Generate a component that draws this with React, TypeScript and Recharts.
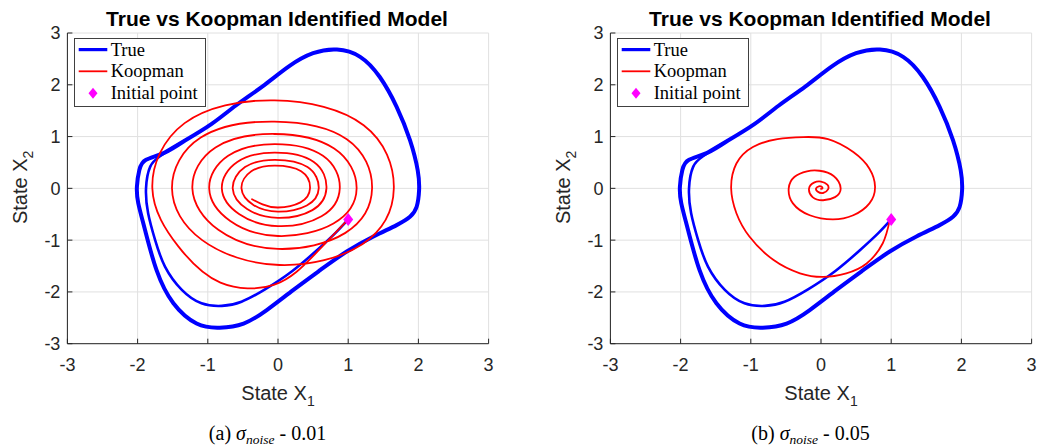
import React from 'react';
import { ScatterChart, Scatter, XAxis, YAxis, CartesianGrid, Legend } from 'recharts';

const axisTicks = [-3, -2, -1, 0, 1, 2, 3];

type P = [number, number];

const trueTransientRaw: P[] = [
  [1.0, -0.6], [0.82, -0.86], [0.55, -1.2], [0.2, -1.6], [-0.185, -1.95], [-0.52, -2.19],
  [-0.8, -2.27], [-1.09, -2.22], [-1.37, -1.96], [-1.61, -1.51], [-1.75, -1.0],
  [-1.85, -0.48], [-1.88, 0.0], [-1.82, 0.42], [-1.68, 0.62], [-1.48, 0.8], [-1.33, 0.92],
];

const trueCycleRaw: P[] = [
  [-1.63, 0.68], [-1.33, 0.92], [-0.95, 1.24], [-0.6, 1.6], [-0.22, 1.97], [0.16, 2.36],
  [0.5, 2.61], [0.84, 2.68], [1.17, 2.54], [1.45, 2.15], [1.69, 1.575], [1.88, 0.93],
  [1.99, 0.35], [2.01, -0.03], [1.975, -0.355], [1.88, -0.55], [1.69, -0.71], [1.36, -0.93],
  [0.98, -1.22], [0.6, -1.58], [0.22, -1.96], [-0.16, -2.35], [-0.49, -2.61], [-0.83, -2.69],
  [-1.16, -2.61], [-1.49, -2.22], [-1.73, -1.58], [-1.895, -0.8], [-1.99, -0.29],
  [-2.01, 0.03], [-1.975, 0.355], [-1.88, 0.55], [-1.63, 0.68], [-1.33, 0.92],
];

const koopmanARaw: P[] = [
  [1.0, -0.6], [0.52, -1.28], [-0.05, -1.86], [-0.82, -1.82], [-1.42, -1.12],
  // ring 1
  [-1.79, 0.0], [-1.33, 1.26], [-0.05, 1.7], [1.22, 1.22], [1.65, 0.0], [1.2, -1.08],
  [0.02, -1.48], [-1.08, -1.0],
  // ring 2
  [-1.51, 0.0], [-1.1, 0.98], [-0.05, 1.29], [0.98, 0.95], [1.34, 0.0], [0.96, -0.86],
  [0.0, -1.17], [-0.85, -0.8],
  // ring 3
  [-1.22, 0.0], [-0.89, 0.79], [-0.05, 1.05], [0.8, 0.77], [1.12, 0.0], [0.79, -0.68],
  [0.0, -0.92], [-0.68, -0.63],
  // ring 4
  [-0.98, 0.0], [-0.71, 0.63], [-0.05, 0.855], [0.64, 0.63], [0.88, 0.0], [0.62, -0.54],
  [0.0, -0.73], [-0.55, -0.5],
  // ring 5
  [-0.8, 0.0], [-0.58, 0.51], [-0.05, 0.69], [0.51, 0.51], [0.69, 0.0], [0.49, -0.42],
  [0.0, -0.57], [-0.44, -0.4],
  // ring 6
  [-0.645, 0.0], [-0.47, 0.41], [-0.05, 0.55], [0.42, 0.41], [0.58, 0.0], [0.41, -0.33],
  [0.0, -0.45], [-0.35, -0.32],
  // ring 7
  [-0.52, 0.0], [-0.38, 0.33], [-0.05, 0.44], [0.33, 0.33], [0.456, 0.0], [0.32, -0.27],
  [0.0, -0.37], [-0.22, -0.31], [-0.37, -0.21],
];

const koopmanBRaw: P[] = [
  [0.98, -0.61], [0.88, -1.06], [0.65, -1.45], [0.36, -1.64], [0.03, -1.71], [-0.3, -1.64],
  [-0.68, -1.38], [-1.02, -0.93], [-1.205, -0.48], [-1.28, 0.0], [-1.205, 0.48],
  [-0.97, 0.8], [-0.62, 0.95], [-0.25, 0.99], [0.1, 0.95], [0.46, 0.7], [0.69, 0.38],
  [0.77, 0.03], [0.69, -0.29], [0.46, -0.52], [0.17, -0.6], [-0.16, -0.52], [-0.4, -0.29],
  [-0.46, 0.0], [-0.38, 0.22], [-0.2, 0.33], [-0.02, 0.34], [0.18, 0.24], [0.28, 0.0],
  [0.2, -0.17], [0.03, -0.23], [-0.12, -0.17], [-0.17, 0.0], [-0.1, 0.11], [0.0, 0.13],
  [0.09, 0.07], [0.1, -0.02], [0.03, -0.09], [-0.05, -0.06], [-0.07, 0.0], [-0.03, 0.04],
  [0.01, 0.03], [0.02, 0.0], [0.0, -0.01],
];

const initialRaw: P[] = [[1.0, -0.6]];

const toPts = (a: P[]) => a.map(([x, y]) => ({ x, y }));
const trueTransient = toPts(trueTransientRaw);
const trueCycle = toPts(trueCycleRaw);
const koopmanA = toPts(koopmanARaw);
const koopmanB = toPts(koopmanBRaw);
const initialPoint = toPts(initialRaw);

const SANS = '"Liberation Sans", Arial, Helvetica, sans-serif';
const SERIF = '"Liberation Serif", "Times New Roman", serif';
const AX = '#262626';

const PLOT_TOP = 33;
const PLOT_H = 310.7;

const Empty = () => <g />;

const Diamond = (props: any) => {
  const { cx, cy } = props;
  if (cx == null || cy == null) return <g />;
  return (
    <polygon
      points={`${cx},${cy - 6.5} ${cx + 5},${cy} ${cx},${cy + 6.5} ${cx - 5},${cy}`}
      fill="#ff00ff"
    />
  );
};

const LegendBox = () => (
  <svg width={132} height={69} style={{ display: 'block' }}>
    <rect x={0.5} y={0.5} width={131} height={68} fill="#fff" stroke="#404040" strokeWidth={1} />
    <line x1={4.7} x2={33.3} y1={11.6} y2={11.6} stroke="#0000ff" strokeWidth={3.2} />
    <line x1={4.7} x2={33.3} y1={33.3} y2={33.3} stroke="#ff0000" strokeWidth={1.8} />
    <polygon points="19,49.8 23.5,55.3 19,60.8 14.5,55.3" fill="#ff00ff" />
    <text x={36.7} y={17.6} fontFamily={SERIF} fontSize={18.5} fill="#000">True</text>
    <text x={36.7} y={39.1} fontFamily={SERIF} fontSize={18.5} fill="#000">Koopman</text>
    <text x={36.7} y={60.6} fontFamily={SERIF} fontSize={18.5} fill="#000">Initial point</text>
  </svg>
);

const makeXLabel = (caption: string) => (props: any) => {
  const vb = props.viewBox || {};
  const cx = vb.x + vb.width / 2;
  const bottom = PLOT_TOP + PLOT_H;
  return (
    <g>
      <text x={cx - 1} y={PLOT_TOP - 7} textAnchor="middle" fontFamily={SANS} fontWeight="bold" fontSize={21} fill="#000">
        True vs Koopman Identified Model
      </text>
      <text x={cx} y={bottom + 56.3} textAnchor="middle" fontFamily={SANS} fontSize={20} fill={AX}>
        State X<tspan fontSize={14} dy={6}>1</tspan>
      </text>
      <text x={cx - 10.5} y={bottom + 96.3} textAnchor="middle" fontFamily={SERIF} fontSize={20} fill="#000">
        ({caption}){' '}
        <tspan fontStyle="italic">σ</tspan>
        <tspan fontStyle="italic" fontSize={13.5} dy={4}>noise</tspan>
        <tspan dy={-4}>{'  - '}</tspan>
        <tspan>{caption === 'a' ? '0.01' : '0.05'}</tspan>
      </text>
    </g>
  );
};

const YLabel = (props: any) => {
  const vb = props.viewBox || {};
  const cy = PLOT_TOP + PLOT_H / 2 - 1;
  const x = vb.x + vb.width - 40.4;
  return (
    <text
      x={x}
      y={cy}
      transform={`rotate(-90, ${x}, ${cy})`}
      textAnchor="middle"
      fontFamily={SANS}
      fontSize={20}
      fill={AX}
    >
      State X<tspan fontSize={14} dy={6}>2</tspan>
    </text>
  );
};

const Panel = ({ width, koopman, caption }: { width: number; koopman: { x: number; y: number }[]; caption: string }) => {
  const tickStyle = { fontSize: 18, fill: AX, fontFamily: SANS };
  return (
    <ScatterChart
      width={width}
      height={448}
      margin={{ top: PLOT_TOP, right: width - 67.4 - 421.2, left: 27.4, bottom: 448 - PLOT_TOP - PLOT_H - 30 }}
    >
      <CartesianGrid stroke="#e0e0e0" strokeWidth={1} xAxisId={0} yAxisId={0} />
      <XAxis
        xAxisId={0}
        dataKey="x"
        type="number"
        domain={[-3, 3]}
        ticks={axisTicks}
        interval={0}
        allowDataOverflow
        height={30}
        tickSize={-5}
        tickMargin={20}
        tick={tickStyle}
        stroke={AX}
        axisLine={{ stroke: AX }}
        tickLine={{ stroke: AX }}
        label={{ content: makeXLabel(caption) }}
      />
      <XAxis
        xAxisId="top"
        orientation="top"
        type="number"
        domain={[-3, 3]}
        ticks={axisTicks}
        interval={0}
        allowDataOverflow
        height={0}
        tickSize={-5}
        tickFormatter={() => ''}
        stroke={AX}
        axisLine={{ stroke: AX }}
        tickLine={{ stroke: AX }}
      />
      <YAxis
        yAxisId={0}
        dataKey="y"
        type="number"
        domain={[-3, 3]}
        ticks={axisTicks}
        interval={0}
        allowDataOverflow
        width={40}
        tickSize={-5}
        tickMargin={12}
        tick={tickStyle}
        stroke={AX}
        axisLine={{ stroke: AX }}
        tickLine={{ stroke: AX }}
        label={{ content: YLabel }}
      />
      <YAxis
        yAxisId="right"
        orientation="right"
        type="number"
        domain={[-3, 3]}
        ticks={axisTicks}
        interval={0}
        allowDataOverflow
        width={0}
        tickSize={-5}
        tickFormatter={() => ''}
        stroke={AX}
        axisLine={{ stroke: AX }}
        tickLine={{ stroke: AX }}
      />
      <Legend
        verticalAlign="middle"
        align="center"
        content={LegendBox}
        wrapperStyle={{ position: 'absolute', left: 74, top: 37.5, width: 132, height: 69 }}
      />
      <Scatter
        name="True"
        data={trueTransient}
        xAxisId={0}
        yAxisId={0}
        fill="#0000ff"
        shape={Empty}
        line={{ stroke: '#0000ff', strokeWidth: 2.6, strokeLinejoin: 'round', strokeLinecap: 'round' }}
        lineJointType="natural"
        isAnimationActive={false}
      />
      <Scatter
        name="True cycle"
        data={trueCycle}
        xAxisId={0}
        yAxisId={0}
        fill="#0000ff"
        shape={Empty}
        line={{ stroke: '#0000ff', strokeWidth: 4, strokeLinejoin: 'round', strokeLinecap: 'round' }}
        lineJointType="natural"
        isAnimationActive={false}
      />
      <Scatter
        name="Koopman"
        data={koopman}
        xAxisId={0}
        yAxisId={0}
        fill="#ff0000"
        shape={Empty}
        line={{ stroke: '#ff0000', strokeWidth: 1.8, strokeLinejoin: 'round', strokeLinecap: 'round' }}
        lineJointType="natural"
        isAnimationActive={false}
      />
      <Scatter
        name="Initial point"
        data={initialPoint}
        xAxisId={0}
        yAxisId={0}
        fill="#ff00ff"
        shape={Diamond}
        isAnimationActive={false}
      />
    </ScatterChart>
  );
};

export default function App() {
  return (
    <div style={{ position: 'absolute', left: 0, top: 0, width: 1037, height: 448, overflow: 'hidden', background: '#fff' }}>
      <div style={{ position: 'absolute', left: 0, top: 0 }}>
        <Panel width={500} koopman={koopmanA} caption="a" />
      </div>
      <div style={{ position: 'absolute', left: 543.1, top: 0 }}>
        <Panel width={494} koopman={koopmanB} caption="b" />
      </div>
    </div>
  );
}
